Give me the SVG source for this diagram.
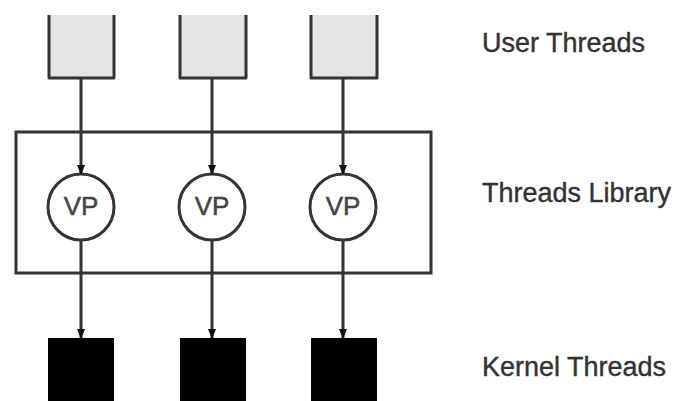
<svg xmlns="http://www.w3.org/2000/svg" width="674" height="401" viewBox="0 0 674 401">
<style>
.ut{fill:#e4e4e4;stroke:#333;stroke-width:3;stroke-linejoin:round}
.kt{fill:#000;stroke:none}
.vp{fill:#fff;stroke:#333;stroke-width:3}
.lib{fill:none;stroke:#333;stroke-width:3}
.c{stroke:#333;stroke-width:3;fill:none;marker-end:url(#ah)}
.vpt{font-family:"Liberation Sans",Arial,sans-serif;font-size:26px;fill:#444;stroke:#444;stroke-width:0.5;text-anchor:middle}
.lbl{font-family:"Liberation Sans",Arial,sans-serif;font-size:27px;fill:#333;stroke:#333;stroke-width:0.4}
</style>
<defs>
<marker id="ah" markerWidth="10" markerHeight="10" refX="9" refY="5" orient="auto" markerUnits="userSpaceOnUse">
<path d="M0,1 L10,5 L0,9 z" fill="#111"/>
</marker>
</defs>
<rect x="0" y="0" width="674" height="401" fill="#fff"/>
<g id="library"><rect class="lib" x="16" y="132" width="415" height="141"/></g>
<g id="user1"><path class="ut" d="M49,15 V78 H114 V15"/></g>
<g id="user2"><path class="ut" d="M180,15 V78 H246 V15"/></g>
<g id="user3"><path class="ut" d="M311,15 V78 H377 V15"/></g>
<g id="vp1"><circle class="vp" cx="81" cy="207" r="33"/><text class="vpt" x="81" y="215">VP</text></g>
<g id="vp2"><circle class="vp" cx="212" cy="207" r="33"/><text class="vpt" x="212" y="215">VP</text></g>
<g id="vp3"><circle class="vp" cx="343" cy="207" r="33"/><text class="vpt" x="343" y="215">VP</text></g>
<g id="kernel1"><rect class="kt" x="48" y="338" width="66" height="63"/></g>
<g id="kernel2"><rect class="kt" x="180" y="338" width="66" height="63"/></g>
<g id="kernel3"><rect class="kt" x="311" y="338" width="66" height="63"/></g>
<g id="connectors">
<line class="c" x1="81" y1="79" x2="81" y2="174"/>
<line class="c" x1="212" y1="79" x2="212" y2="174"/>
<line class="c" x1="343" y1="79" x2="343" y2="174"/>
<line class="c" x1="81" y1="240" x2="81" y2="338"/>
<line class="c" x1="212" y1="240" x2="212" y2="338"/>
<line class="c" x1="343" y1="240" x2="343" y2="338"/>
</g>
<g id="labels">
<text class="lbl" x="482" y="52">User Threads</text>
<text class="lbl" x="482" y="202">Threads Library</text>
<text class="lbl" x="482" y="376">Kernel Threads</text>
</g>
</svg>
